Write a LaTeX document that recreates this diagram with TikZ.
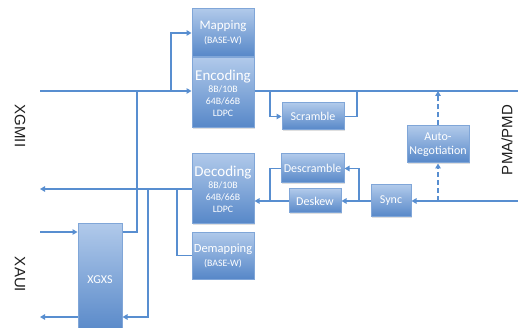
\documentclass[tikz,border=0pt]{standalone}
\usepackage{fontspec}
\setmainfont{Liberation Sans}
\newfontfamily\boxfont{Carlito}
\usetikzlibrary{arrows.meta,shadows}

\definecolor{wire}{RGB}{88,142,208}
\definecolor{boxtop}{RGB}{176,201,234}
\definecolor{boxbot}{RGB}{86,135,200}
\definecolor{boxedge}{RGB}{128,166,216}
\definecolor{labeltext}{RGB}{30,30,30}

\begin{document}
\begin{tikzpicture}[x=1pt,y=-1pt,
  blk/.style={draw=boxedge, line width=1pt, top color=boxtop, bottom color=boxbot,
    text=white, font=\boxfont\fontsize{12}{14}\selectfont, align=center, inner sep=0pt,
    drop shadow={shadow xshift=1pt, shadow yshift=-1pt, opacity=0.25}},
  codec/.style={blk, minimum width=62pt, minimum height=70pt, font=\boxfont\fontsize{9.8}{12}\selectfont},
  wirel/.style={draw=wire, line width=1.6pt},
  arr/.style={wirel, -{Triangle[length=5pt,width=5.5pt]}},
  dashwire/.style={arr, dash pattern=on 5pt off 3pt},
  side/.style={text=labeltext, font=\fontsize{15}{15}\selectfont, inner sep=0pt},
]
\useasboundingbox (0,0) rectangle (518,328);
\clip (0,0) rectangle (518,328);

% transmit-side blocks
\node[blk, minimum width=62pt, minimum height=48pt] (map) at (223,33)
  {{\fontsize{13}{13}\selectfont Mapping}\\{\fontsize{9.8}{14}\selectfont (BASE-W)}};
\node[codec] (enc) at (223,93)
  {{\fontsize{15}{15}\selectfont Encoding}\\8B/10B\\64B/66B\\LDPC};
\node[blk, minimum width=62pt, minimum height=27pt] (scr) at (313,116.5) {Scramble};
\node[blk, minimum width=62pt, minimum height=37pt] (auto) at (438,144.5) {Auto-\\Negotiation};

% receive-side blocks
\node[codec] (dec) at (223,189)
  {{\fontsize{15}{15}\selectfont Decoding}\\8B/10B\\64B/66B\\LDPC};
\node[blk, minimum width=62pt, minimum height=47pt] (demap) at (223,255.5)
  {{\fontsize{12.5}{13}\selectfont Demapping}\\{\fontsize{9.8}{14}\selectfont (BASE-W)}};
\node[blk, minimum width=63pt, minimum height=29pt] (descr) at (312.5,168.5) {Descramble};
\node[blk, minimum width=52pt, minimum height=24pt] (deskew) at (315,201) {Deskew};
\node[blk, minimum width=40pt, minimum height=32pt] (sync) at (391,201) {Sync};
\node[blk, minimum width=44pt, minimum height=111pt] (xgxs) at (100,279.5) {XGXS};

% interface labels
\node[side, rotate=-90] (xgmii) at (20,126) {XGMII};
\node[side, rotate=-90] (xaui) at (20,274.5) {XAUI};
\node[side, rotate=90] (pma) at (507,140) {PMA/PMD};

% wire end points and junctions
\coordinate (xgmiiIn) at (40,91);
\coordinate (tapMap) at (171,91);
\coordinate (tapXg) at (137,91);
\coordinate (tapScrIn) at (270,91);
\coordinate (tapScrOut) at (357,91);
\coordinate (anTop) at (438,91);
\coordinate (pmaTx) at (518,91);
\coordinate (pmaRx) at (518,201);
\coordinate (anBot) at (438,201);
\coordinate (tapDescr) at (359,201);
\coordinate (joinDescr) at (270,201);
\coordinate (xgmiiOut) at (40,189);
\coordinate (joinDemap) at (177,189);
\coordinate (tapXgRx) at (148,189);
\coordinate (xauiIn) at (40,232);
\coordinate (xauiOut) at (40,317);

% transmit path
\draw[arr] (xgmiiIn) -- (enc.west |- xgmiiIn);
\draw[arr] (tapMap) |- (map.west);
\draw[wirel] (enc.east |- pmaTx) -- (pmaTx);
\draw[arr] (tapScrIn) |- (scr.west);
\draw[wirel] (scr.east) -| (tapScrOut);
\draw[dashwire] (auto.north) -- (anTop);

% receive path
\draw[arr] (pmaRx) -- (sync.east);
\draw[dashwire] (anBot) -- (auto.south);
\draw[arr] (sync.west) -- (deskew.east);
\draw[arr] (tapDescr) |- (descr.east);
\draw[arr] (deskew.west) -- (dec.east |- pmaRx);
\draw[wirel] (descr.west) -| (joinDescr);
\draw[arr] (dec.west |- xgmiiOut) -- (xgmiiOut);
\draw[wirel] (demap.west) -| (joinDemap);

% XAUI through the XGXS
\draw[arr] (xauiIn) -- (xgxs.west |- xauiIn);
\draw[wirel] (xgxs.east |- xauiIn) -| (tapXg);
\draw[arr] (tapXgRx) |- (xgxs.east |- xauiOut);
\draw[arr] (xgxs.west |- xauiOut) -- (xauiOut);
\end{tikzpicture}
\end{document}
